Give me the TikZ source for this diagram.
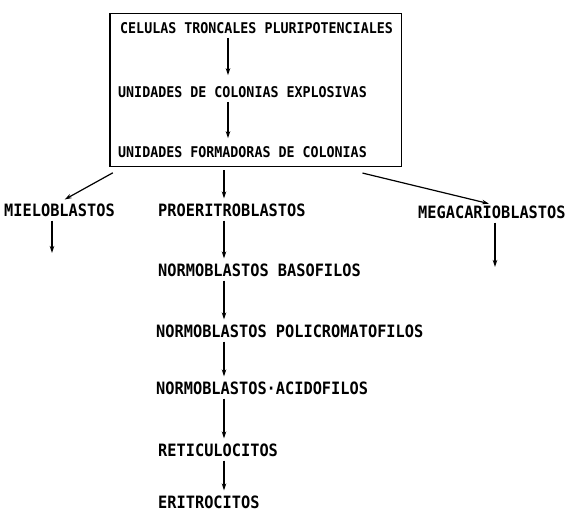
\documentclass[tikz,border=0pt]{standalone}
\usepackage{fontspec}
\setmonofont[FakeStretch=0.9]{DejaVu Sans Mono}
\usetikzlibrary{fit}
\usetikzlibrary{positioning}
\usetikzlibrary{arrows.meta}
\tikzset{%
  boxcel/.style={rectangle,draw=black,line width=1.1pt,inner xsep=7pt,inner ysep=8pt},
  txtcel/.style={anchor=west,inner sep=1pt,font=\ttfamily\bfseries\fontsize{14.8}{16}\selectfont},
  txtstage/.style={anchor=west,inner sep=1pt,font=\ttfamily\bfseries\fontsize{17}{19}\selectfont},
  flecha/.style={line width=1.2pt,-{Stealth[length=7pt,width=4.5pt]},shorten <=3pt,shorten >=4pt}
}

\begin{document}
\begin{tikzpicture}[x=1pt,y=-1pt]
  \useasboundingbox (0,0) rectangle (567,515);
  % caja de colonias
  \node[txtcel](celulas) at (119,28){CELULAS TRONCALES PLURIPOTENCIALES};
  \node[txtcel](explosivas) at (117,92){UNIDADES DE COLONIAS EXPLOSIVAS};
  \node[txtcel](formadoras) at (117,152){UNIDADES FORMADORAS DE COLONIAS};
  \node[boxcel,fit=(celulas)(explosivas)(formadoras)](cellbox){};
  \coordinate (boxcol) at (228,0);
  \draw[flecha,shorten >=10pt] (celulas.south -| boxcol) -- (explosivas.north -| boxcol);
  \draw[flecha,shorten >=7pt] (explosivas.south -| boxcol) -- (formadoras.north -| boxcol);
  % lineas celulares
  \node[txtstage](mielo) at (3,210){MIELOBLASTOS};
  \node[txtstage](proeri) at (157,210){PROERITROBLASTOS};
  \node[txtstage](mega) at (417,212){MEGACARIOBLASTOS};
  \node[txtstage](baso) at (157,270){NORMOBLASTOS BASOFILOS};
  \node[txtstage](poli) at (155,331){NORMOBLASTOS POLICROMATOFILOS};
  \node[txtstage](acido) at (155,388){NORMOBLASTOS·ACIDOFILOS};
  \node[txtstage](reti) at (157,450){RETICULOCITOS};
  \node[txtstage](eri) at (157,502){ERITROCITOS};
  \coordinate (col) at (224,0);
  \coordinate (mieloend) at (52,253);
  \coordinate (megaend) at (495,267);
  \draw[flecha,shorten >=6pt] ([xshift=6pt,yshift=-4pt]cellbox.south west) -- (mielo.north);
  \draw[flecha] (cellbox.south -| col) -- (proeri.north -| col);
  \draw[flecha,shorten >=3pt] ([xshift=-42pt,yshift=-5pt]cellbox.south east) -- (mega.north);
  \draw[flecha,shorten >=0pt] (mielo.south -| mieloend) -- (mieloend);
  \draw[flecha,shorten >=0pt] (mega.south -| megaend) -- (megaend);
  \draw[flecha] (proeri.south -| col) -- (baso.north -| col);
  \draw[flecha] (baso.south -| col) -- (poli.north -| col);
  \draw[flecha] (poli.south -| col) -- (acido.north -| col);
  \draw[flecha] (acido.south -| col) -- (reti.north -| col);
  \draw[flecha] (reti.south -| col) -- (eri.north -| col);
\end{tikzpicture}
\end{document}
